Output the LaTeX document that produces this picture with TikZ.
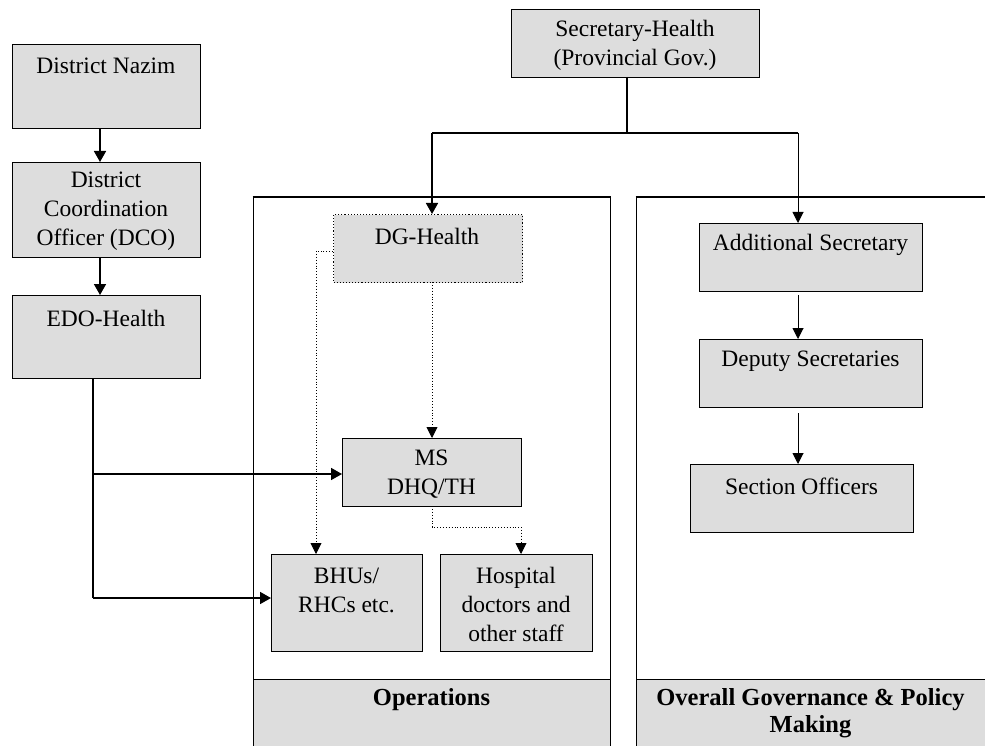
\documentclass[tikz,border=0pt]{standalone}
\usepackage{fontspec}
\setmainfont{Liberation Serif}
\usetikzlibrary{arrows.meta}
\definecolor{boxgray}{RGB}{221,221,221}
\begin{document}
\begin{tikzpicture}[x=1pt,y=-1pt,
  box/.style={draw, fill=boxgray, line width=1.4pt, anchor=north west, inner sep=0pt},
  dotbox/.style={draw, fill=boxgray, line width=1.1pt, dotted, anchor=north west, inner sep=0pt},
  txt/.style={font=\fontsize{23.5}{29}\selectfont, align=center, inner sep=0pt},
  btxt/.style={font=\fontsize{24.5}{27}\selectfont\bfseries, align=center, inner sep=0pt},
  thick conn/.style={line width=1.7pt},
  conn/.style={line width=1pt},
  dconn/.style={line width=0.9pt, dotted},
  arr/.style={-{Triangle[width=12pt,length=11pt]}},
  sarr/.style={-{Triangle[width=11pt,length=11pt]}}
]
\useasboundingbox (0,0) rectangle (985,746);

% panels
\fill[boxgray] (253,679) rectangle (610,746);
\fill[boxgray] (636,679) rectangle (985,746);
\draw[line width=1pt] (253,746) -- (253,197);
\draw[line width=1.7pt] (252.5,197) -- (610.5,197);
\draw[line width=1pt] (610,197) -- (610,746);
\draw[line width=1pt] (253,679) -- (610,679);
\draw[line width=1pt] (636,746) -- (636,197);
\draw[line width=1.7pt] (635.5,197) -- (985,197);
\draw[line width=1pt] (636,679) -- (985,679);
\node[btxt] (opsT) at (431.5,700) {Operations};
\node[btxt] (govT) at (810.5,713.5) {Overall Governance \& Policy\\Making};

% left column
\node[box, minimum width=188pt, minimum height=84pt] (nazim) at (12,44) {};
\node[txt] (nazimT) at (106,66) {District Nazim};
\node[box, minimum width=188pt, minimum height=95pt] (dco) at (12,162) {};
\node[txt] (dcoT) at (106,211) {District\\Coordination\\Officer (DCO)};
\node[box, minimum width=188pt, minimum height=83pt] (edo) at (12,295) {};
\node[txt] (edoT) at (106,318) {EDO-Health};

% top
\node[box, minimum width=248pt, minimum height=68pt] (sec) at (511,9) {};
\node[txt] (secT) at (635,45) {Secretary-Health\\(Provincial Gov.)};

% operations
\node[dotbox, minimum width=189pt, minimum height=68pt] (dg) at (333,214) {};
\node[txt] (dgT) at (427,236) {DG-Health};
\node[box, minimum width=179pt, minimum height=68pt] (ms) at (342,438) {};
\node[txt] (msT) at (431.5,474) {MS\\DHQ/TH};
\node[box, minimum width=151pt, minimum height=97pt] (bhu) at (271,554) {};
\node[txt] (bhuT) at (346.5,590) {BHUs/\\RHCs etc.};
\node[box, minimum width=152pt, minimum height=97pt] (hosp) at (440,554) {};
\node[txt] (hospT) at (516,604) {Hospital\\doctors and\\other staff};

% governance
\node[box, minimum width=223pt, minimum height=68pt] (add) at (699,223) {};
\node[txt] (addT) at (810.5,245) {Additional Secretary};
\node[box, minimum width=223pt, minimum height=68pt] (dep) at (699,339) {};
\node[txt] (depT) at (810.5,361) {Deputy Secretaries};
\node[box, minimum width=223pt, minimum height=68pt] (so) at (690,464) {};
\node[txt] (soT) at (801.5,486) {Section Officers};

% coordinates
\coordinate (secB) at (627,77);
\coordinate (j1) at (627,133);
\coordinate (jL) at (432,133);
\coordinate (jR) at (798,133);
\coordinate (edoB) at (93,378);
\coordinate (e1) at (93,474);
\coordinate (e2) at (93,598);
\coordinate (dgL) at (333,251);
\coordinate (d1) at (316,251);
\coordinate (dgB) at (432,282);
\coordinate (msB) at (432,506);
\coordinate (m1) at (432,527);
\coordinate (m2) at (521,527);
\coordinate (addB) at (798,295);
\coordinate (depB) at (798,413);

% connectors
\draw[thick conn] (secB) -- (j1);
\draw[thick conn] (jL) -- (jR);
\draw[thick conn, arr] (jL) -- (jL |- dg.north);
\draw[conn, sarr] (jR) -- (jR |- add.north);
\draw[thick conn, arr] (nazim.south -| 100,0) -- (dco.north -| 100,0);
\draw[thick conn, arr] (dco.south -| 100,0) -- (edo.north -| 100,0);
\draw[thick conn] (edoB) -- (e2);
\draw[thick conn, arr] (e1) -- (e1 -| ms.west);
\draw[thick conn, arr] (e2) -- (e2 -| bhu.west);
\draw[dconn] (dgL) -- (d1);
\draw[dconn, sarr] (d1) -- (d1 |- bhu.north);
\draw[dconn, sarr] (dgB) -- (dgB |- ms.north);
\draw[dconn] (msB) -- (m1) -- (m2);
\draw[dconn, sarr] (m2) -- (m2 |- hosp.north);
\draw[conn, sarr] (addB) -- (addB |- dep.north);
\draw[conn, sarr] (depB) -- (depB |- so.north);
\end{tikzpicture}
\end{document}
